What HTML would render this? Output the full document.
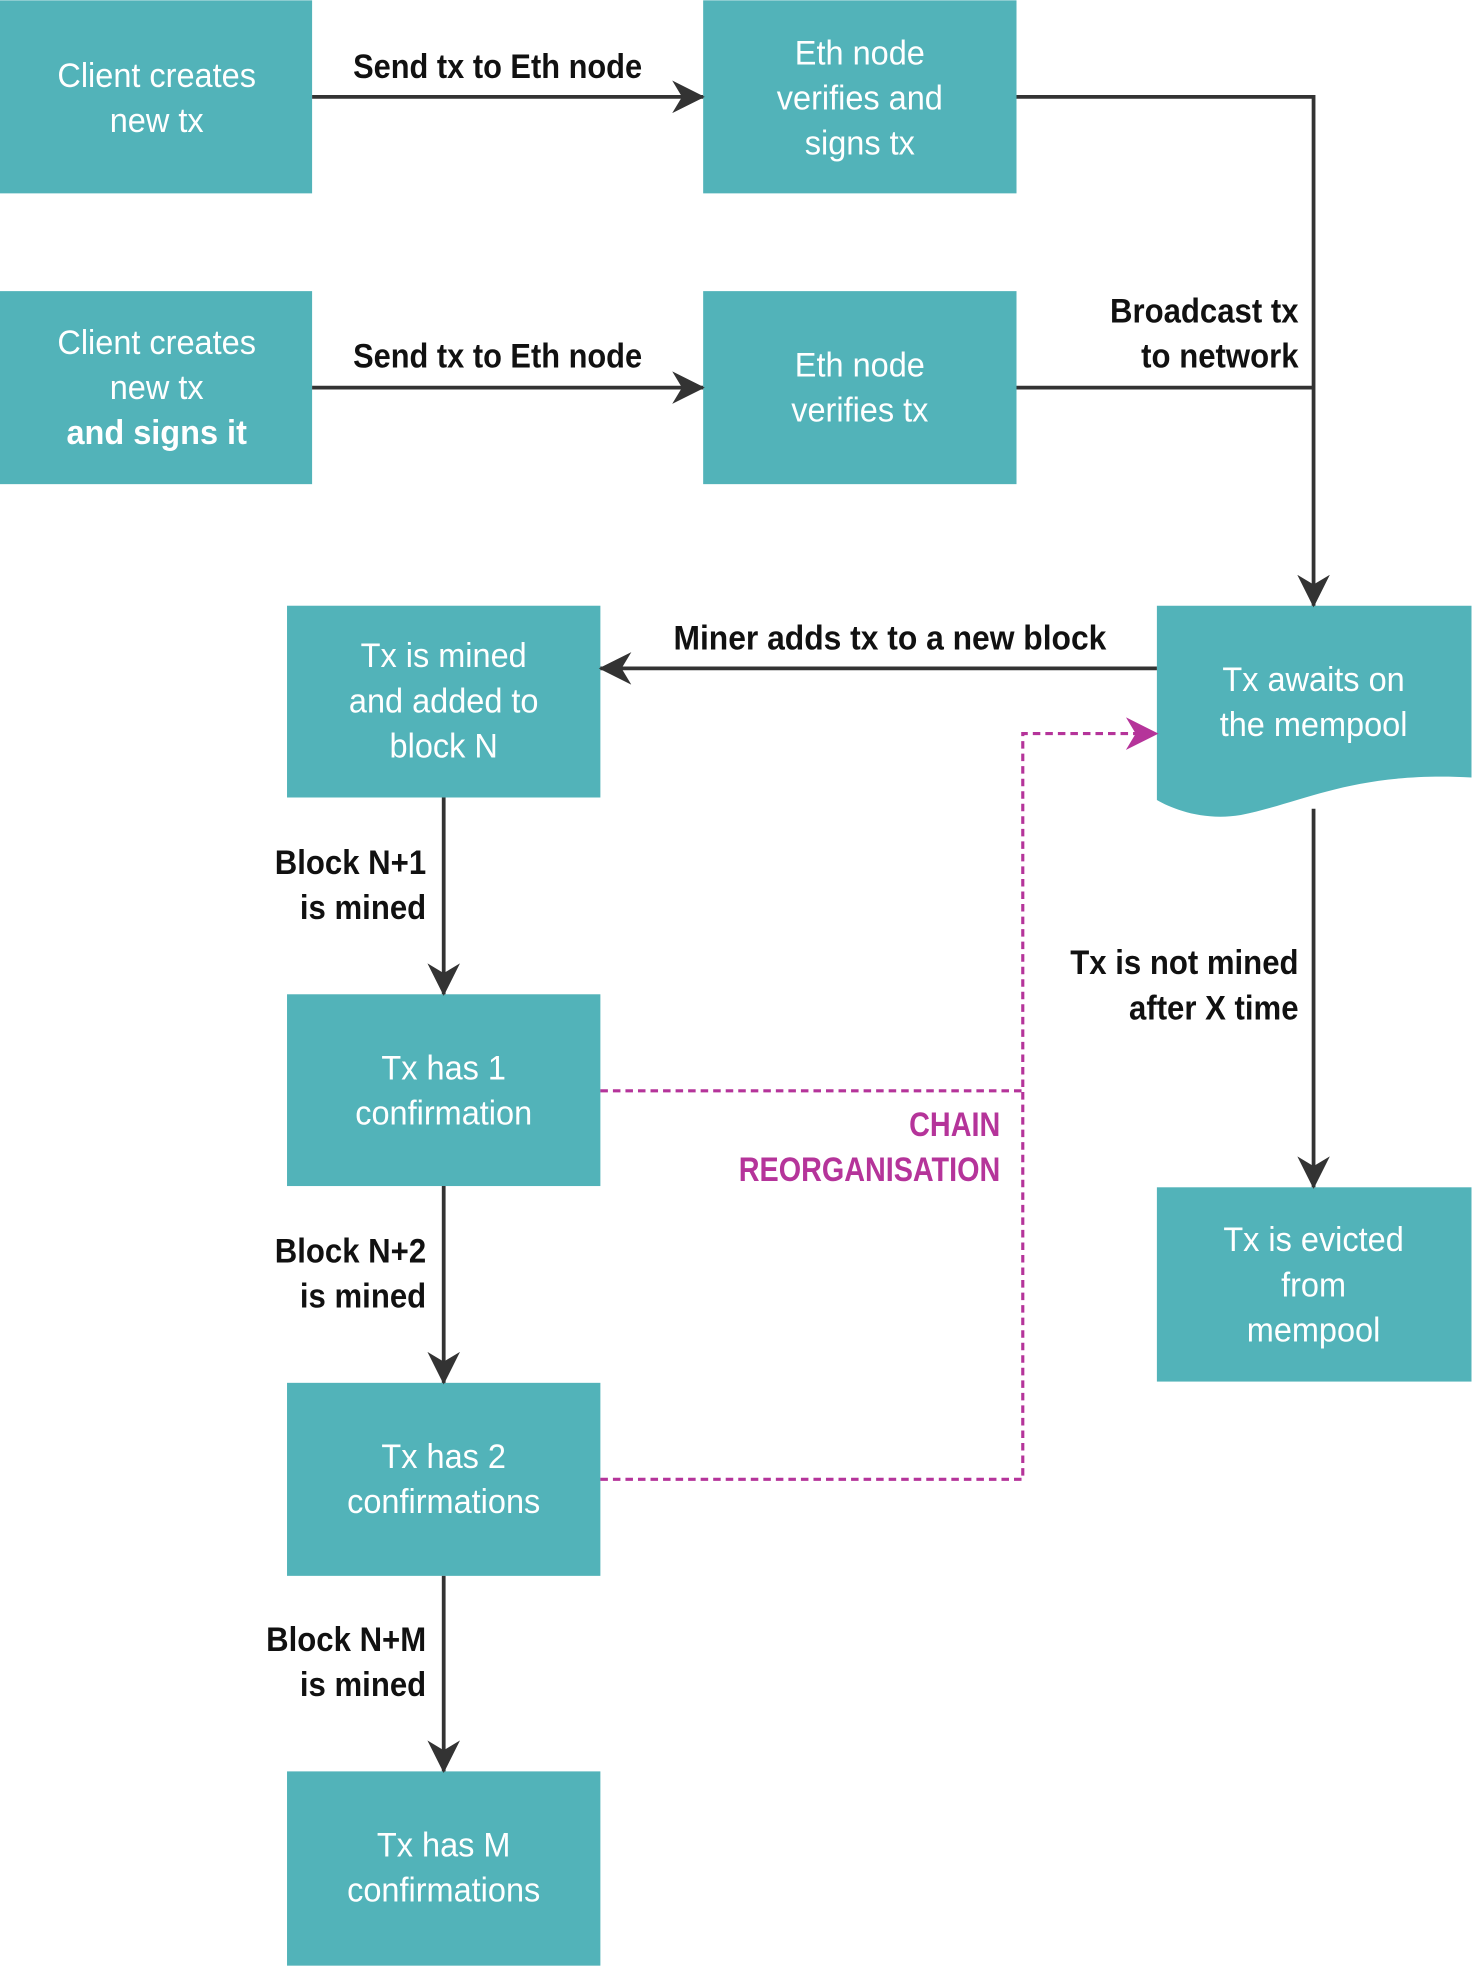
<!DOCTYPE html>
<html><head><meta charset="utf-8"><style>
html,body{margin:0;padding:0;background:#fff;}
svg{display:block;}
.bt{font-family:"Liberation Sans",sans-serif;font-size:27px;fill:#fff;text-anchor:middle;}
.lb{font-family:"Liberation Sans",sans-serif;font-size:27px;font-weight:bold;fill:#111;}
.mg{font-family:"Liberation Sans",sans-serif;font-size:27px;font-weight:bold;fill:#b5349a;text-anchor:end;}
</style></head><body>
<svg width="1474" height="1966" viewBox="0 0 1176 1568" xmlns="http://www.w3.org/2000/svg">
<defs>
<marker id="a" viewBox="0 0 20 20" refX="19" refY="10" markerWidth="26" markerHeight="26" markerUnits="userSpaceOnUse" orient="auto">
<path d="M0,0 L20,10 L0,20 L6,10 Z" fill="#333"/></marker>
<marker id="m" viewBox="0 0 20 20" refX="19" refY="10" markerWidth="26" markerHeight="26" markerUnits="userSpaceOnUse" orient="auto">
<path d="M0,0 L20,10 L0,20 L6,10 Z" fill="#b5349a"/></marker>
</defs>
<g fill="#52b3b9">
<rect x="0" y="0" width="249" height="154"/>
<rect x="561" y="0" width="250" height="154"/>
<rect x="0" y="232" width="249" height="154"/>
<rect x="561" y="232" width="250" height="154"/>
<rect x="229" y="483" width="250" height="153"/>
<rect x="229" y="793" width="250" height="153"/>
<rect x="229" y="1103" width="250" height="154"/>
<rect x="229" y="1413" width="250" height="155"/>
<rect x="923" y="947" width="251" height="155"/>
<path d="M923,483 L1174,483 L1174,620 C1080,615 1040,640 990,650 C960,655 935,645 923,638 Z"/>
</g>
<g stroke="#333" stroke-width="3" fill="none">
<line x1="249" y1="77" x2="561" y2="77" marker-end="url(#a)"/>
<polyline points="811,77 1048,77 1048,483" marker-end="url(#a)"/>
<line x1="811" y1="309" x2="1048" y2="309"/>
<line x1="249" y1="309" x2="561" y2="309" marker-end="url(#a)"/>
<line x1="923" y1="533" x2="479" y2="533" marker-end="url(#a)"/>
<line x1="354" y1="636" x2="354" y2="793" marker-end="url(#a)"/>
<line x1="354" y1="946" x2="354" y2="1103" marker-end="url(#a)"/>
<line x1="354" y1="1257" x2="354" y2="1413" marker-end="url(#a)"/>
<line x1="1048" y1="645" x2="1048" y2="947" marker-end="url(#a)"/>
</g>
<g stroke="#b5349a" stroke-width="2.5" fill="none" stroke-dasharray="6,4">
<line x1="479" y1="870" x2="816" y2="870"/>
<polyline points="479,1180 816,1180 816,585 923,585" marker-end="url(#m)"/>
</g>
<text class="bt" transform="translate(125,0) scale(0.96,1) translate(-125,0)"><tspan x="125" y="69">Client creates</tspan><tspan x="125" y="105">new tx</tspan></text>
<text class="bt" transform="translate(686,0) scale(0.96,1) translate(-686,0)"><tspan x="686" y="51">Eth node</tspan><tspan x="686" y="87">verifies and</tspan><tspan x="686" y="123">signs tx</tspan></text>
<text class="bt" transform="translate(125,0) scale(0.96,1) translate(-125,0)"><tspan x="125" y="282">Client creates</tspan><tspan x="125" y="318">new tx</tspan><tspan x="125" y="354" font-weight="bold">and signs it</tspan></text>
<text class="bt" transform="translate(686,0) scale(0.96,1) translate(-686,0)"><tspan x="686" y="300">Eth node</tspan><tspan x="686" y="336">verifies tx</tspan></text>
<text class="bt" transform="translate(1048,0) scale(0.96,1) translate(-1048,0)"><tspan x="1048" y="551">Tx awaits on</tspan><tspan x="1048" y="587">the mempool</tspan></text>
<text class="bt" transform="translate(354,0) scale(0.96,1) translate(-354,0)"><tspan x="354" y="532">Tx is mined</tspan><tspan x="354" y="568">and added to</tspan><tspan x="354" y="604">block N</tspan></text>
<text class="bt" transform="translate(354,0) scale(0.96,1) translate(-354,0)"><tspan x="354" y="861">Tx has 1</tspan><tspan x="354" y="897">confirmation</tspan></text>
<text class="bt" transform="translate(354,0) scale(0.96,1) translate(-354,0)"><tspan x="354" y="1171">Tx has 2</tspan><tspan x="354" y="1207">confirmations</tspan></text>
<text class="bt" transform="translate(354,0) scale(0.96,1) translate(-354,0)"><tspan x="354" y="1481">Tx has M</tspan><tspan x="354" y="1517">confirmations</tspan></text>
<text class="bt" transform="translate(1048,0) scale(0.96,1) translate(-1048,0)"><tspan x="1048" y="998">Tx is evicted</tspan><tspan x="1048" y="1034">from</tspan><tspan x="1048" y="1070">mempool</tspan></text>
<text class="lb" x="397" y="62" text-anchor="middle" transform="translate(397,0) scale(0.91,1) translate(-397,0)">Send tx to Eth node</text>
<text class="lb" x="397" y="293" text-anchor="middle" transform="translate(397,0) scale(0.91,1) translate(-397,0)">Send tx to Eth node</text>
<text class="lb" text-anchor="end" transform="translate(1036,0) scale(0.92,1) translate(-1036,0)"><tspan x="1036" y="257">Broadcast tx</tspan><tspan x="1036" y="293">to network</tspan></text>
<text class="lb" x="710" y="518" text-anchor="middle" transform="translate(710,0) scale(0.94,1) translate(-710,0)">Miner adds tx to a new block</text>
<text class="lb" text-anchor="end" transform="translate(340,0) scale(0.92,1) translate(-340,0)"><tspan x="340" y="697">Block N+1</tspan><tspan x="340" y="733">is mined</tspan></text>
<text class="lb" text-anchor="end" transform="translate(340,0) scale(0.92,1) translate(-340,0)"><tspan x="340" y="1007">Block N+2</tspan><tspan x="340" y="1043">is mined</tspan></text>
<text class="lb" text-anchor="end" transform="translate(340,0) scale(0.92,1) translate(-340,0)"><tspan x="340" y="1317">Block N+M</tspan><tspan x="340" y="1353">is mined</tspan></text>
<text class="lb" text-anchor="end" transform="translate(1036,0) scale(0.92,1) translate(-1036,0)"><tspan x="1036" y="777">Tx is not mined</tspan><tspan x="1036" y="813">after X time</tspan></text>
<text class="mg" transform="translate(798,0) scale(0.85,1) translate(-798,0)"><tspan x="798" y="906">CHAIN</tspan><tspan x="798" y="942">REORGANISATION</tspan></text>
</svg>
</body></html>
